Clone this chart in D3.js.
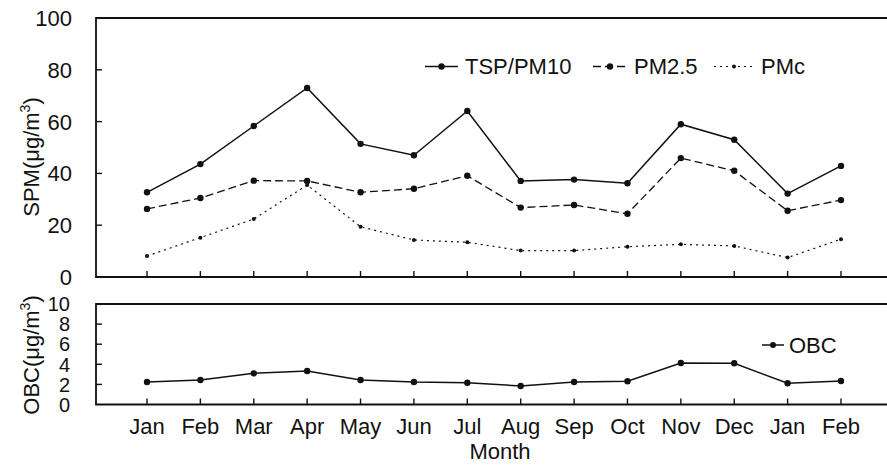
<!DOCTYPE html>
<html>
<head>
<meta charset="utf-8">
<script src="https://cdn.jsdelivr.net/npm/d3@7/dist/d3.min.js"></script>
<style>
  html, body { margin: 0; padding: 0; background: #fff; }
  svg { display: block; }
  text { font-family: "Liberation Sans", Arial, sans-serif; fill: #111; }
</style>
</head>
<body>
<script>
// ---- data ----
const months = ["Jan","Feb","Mar","Apr","May","Jun","Jul","Aug","Sep","Oct","Nov","Dec","Jan","Feb"];
const tspPM10 = [32.7, 43.6, 58.3, 73.0, 51.4, 47.0, 64.1, 37.1, 37.6, 36.2, 59.0, 53.0, 32.2, 42.9];
const pm25    = [26.3, 30.5, 37.2, 37.1, 32.7, 34.1, 39.1, 26.8, 27.8, 24.4, 45.9, 41.0, 25.6, 29.7];
const pmc     = [8.1, 15.2, 22.4, 35.5, 19.4, 14.3, 13.4, 10.2, 10.2, 11.7, 12.6, 12.0, 7.5, 14.6];
const obc     = [2.24, 2.44, 3.1, 3.33, 2.44, 2.24, 2.17, 1.84, 2.24, 2.31, 4.13, 4.1, 2.11, 2.34];
const spmTicks = [0, 20, 40, 60, 80, 100];
const obcTicks = [0, 2, 4, 6, 8, 10];

const W = 887, H = 465;
const svg = d3.select("body").append("svg").attr("width", W).attr("height", H);

const ink = "#111";
const fontSize = 22;

// x: index scale; frame spans slightly left of the first month and beyond the right edge
const x = d3.scaleLinear().domain([0, 13]).range([147, 841]);
const frameL = 96, frameR = 890;

// ---- top panel ----
const yTop = d3.scaleLinear().domain([0, 100]).range([277, 18]);
const gTop = svg.append("g");

gTop.append("path")
  .attr("d", `M${frameR},${yTop(100)}H${frameL}V${yTop(0)}H${frameR}`)
  .attr("fill", "none").attr("stroke", ink).attr("stroke-width", 1.8);

gTop.selectAll(".yt").data(spmTicks.filter(d => d > 0 && d < 100)).join("line")
  .attr("x1", frameL).attr("x2", frameL + 6)
  .attr("y1", d => yTop(d)).attr("y2", d => yTop(d))
  .attr("stroke", ink).attr("stroke-width", 1.4);
gTop.selectAll(".yl").data(spmTicks).join("text")
  .attr("x", 72).attr("y", d => yTop(d)).attr("dy", "0.36em")
  .attr("text-anchor", "end").attr("font-size", fontSize).text(d => d);

gTop.selectAll(".xt").data(months).join("line")
  .attr("x1", (d, i) => x(i)).attr("x2", (d, i) => x(i))
  .attr("y1", yTop(0)).attr("y2", yTop(0) - 6)
  .attr("stroke", ink).attr("stroke-width", 1.4);

const series = [
  { name: "TSP/PM10", values: tspPM10, dash: null, width: 1.5, r: 3.2, lx: 425, lx2: 458 },
  { name: "PM2.5", values: pm25, dash: "8,4", width: 1.3, r: 3.2, lx: 593, lx2: 627 },
  { name: "PMc", values: pmc, dash: "2,4", width: 1.2, r: 2.0, lx: 714, lx2: 754 }
];
const lineTop = d3.line().x((d, i) => x(i)).y(d => yTop(d));

series.forEach(s => {
  gTop.append("path").datum(s.values)
    .attr("d", lineTop).attr("fill", "none").attr("stroke", ink)
    .attr("stroke-width", s.width).attr("stroke-dasharray", s.dash);
  gTop.selectAll(null).data(s.values).join("circle")
    .attr("cx", (d, i) => x(i)).attr("cy", d => yTop(d)).attr("r", s.r).attr("fill", ink);
  const ly = 66.5;
  gTop.append("line").attr("x1", s.lx).attr("x2", s.lx2).attr("y1", ly).attr("y2", ly)
    .attr("stroke", ink).attr("stroke-width", s.width).attr("stroke-dasharray", s.dash);
  gTop.append("circle").attr("cx", (s.lx + s.lx2) / 2).attr("cy", ly).attr("r", s.r).attr("fill", ink);
  gTop.append("text").attr("x", s.lx2 + 7).attr("y", ly).attr("dy", "0.36em")
    .attr("font-size", 22).text(s.name);
});

function unitLabel(g, tx, ty, prefix) {
  const t = g.append("text")
    .attr("transform", `translate(${tx},${ty}) rotate(-90)`)
    .attr("text-anchor", "middle").attr("font-size", 22);
  t.append("tspan").text(prefix + "(μg/m");
  t.append("tspan").attr("font-size", 14).attr("dy", -9).text("3");
  t.append("tspan").attr("dy", 9).text(")");
}
unitLabel(gTop, 39, 157, "SPM");

// ---- bottom panel ----
const yBot = d3.scaleLinear().domain([0, 10]).range([404.5, 304]);
const gBot = svg.append("g");
gBot.append("path")
  .attr("d", `M${frameR},${yBot(10)}H${frameL}V${yBot(0)}H${frameR}`)
  .attr("fill", "none").attr("stroke", ink).attr("stroke-width", 1.8);

gBot.selectAll(".yt").data(obcTicks.filter(d => d > 0 && d < 10)).join("line")
  .attr("x1", frameL).attr("x2", frameL + 6)
  .attr("y1", d => yBot(d)).attr("y2", d => yBot(d))
  .attr("stroke", ink).attr("stroke-width", 1.4);
gBot.selectAll(".yl").data(obcTicks).join("text")
  .attr("x", 70).attr("y", d => yBot(d)).attr("dy", "0.36em")
  .attr("text-anchor", "end").attr("font-size", 20).text(d => d);

gBot.selectAll(".xt").data(months).join("line")
  .attr("x1", (d, i) => x(i)).attr("x2", (d, i) => x(i))
  .attr("y1", yBot(0)).attr("y2", yBot(0) - 6)
  .attr("stroke", ink).attr("stroke-width", 1.4);
gBot.selectAll(".xl").data(months).join("text")
  .attr("x", (d, i) => x(i)).attr("y", 434)
  .attr("text-anchor", "middle").attr("font-size", 22).text(d => d);

const lineBot = d3.line().x((d, i) => x(i)).y(d => yBot(d));
gBot.append("path").datum(obc).attr("d", lineBot)
  .attr("fill", "none").attr("stroke", ink).attr("stroke-width", 1.5);
gBot.selectAll(null).data(obc).join("circle")
  .attr("cx", (d, i) => x(i)).attr("cy", d => yBot(d)).attr("r", 3.2).attr("fill", ink);

const oly = 345;
gBot.append("line").attr("x1", 762).attr("x2", 784).attr("y1", oly).attr("y2", oly)
  .attr("stroke", ink).attr("stroke-width", 1.5);
gBot.append("circle").attr("cx", 773).attr("cy", oly).attr("r", 3).attr("fill", ink);
gBot.append("text").attr("x", 789).attr("y", oly).attr("dy", "0.36em")
  .attr("font-size", 22).text("OBC");

unitLabel(gBot, 39, 355, "OBC");

svg.append("text").attr("x", 500).attr("y", 459)
  .attr("text-anchor", "middle").attr("font-size", 22).text("Month");
</script>
</body>
</html>
